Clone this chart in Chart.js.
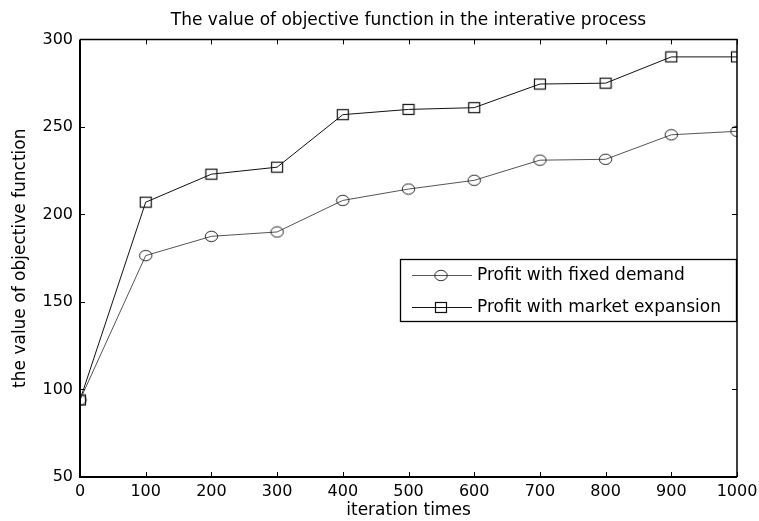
<!DOCTYPE html>
<html>
<head>
<meta charset="utf-8">
<script src="https://cdn.jsdelivr.net/npm/chart.js@4/dist/chart.umd.min.js"></script>
<style>
html,body{margin:0;padding:0;background:#fff;}
#wrap{width:759px;height:521px;}
</style>
</head>
<body>
<div id="wrap"><canvas id="c" width="759" height="521"></canvas></div>
<script>
const iterations = [0, 100, 200, 300, 400, 500, 600, 700, 800, 900, 1000];
const fixedDemand = [94, 176.5, 187.5, 190, 208, 214.5, 219.5, 231, 231.5, 245.5, 247.5];
const marketExpansion = [94, 207, 223, 227, 257, 260, 261, 274.5, 275, 290, 290];
const seriesNames = ['Profit with fixed demand', 'Profit with market expansion'];
const titleText = 'The value of objective function in the interative process';
const xTitle = 'iteration times';
const yTitle = 'the value of objective function';

const FONT = 'DejaVu Sans';

function makeEllipse(){
  const c = document.createElement('canvas');
  c.width = 15; c.height = 13;
  const g = c.getContext('2d');
  g.strokeStyle = '#222'; g.lineWidth = 1;
  g.beginPath(); g.ellipse(7.5, 6.5, 6.2, 5.2, 0, 0, Math.PI*2); g.stroke();
  return c;
}
function makeSquare(){
  const c = document.createElement('canvas');
  c.width = 14; c.height = 13;
  const g = c.getContext('2d');
  g.strokeStyle = '#111'; g.lineWidth = 1.2;
  g.strokeRect(1.5, 1.5, 11, 10);
  return c;
}
const ellipseImg = makeEllipse();
const squareImg = makeSquare();

const toPts = arr => iterations.map((x, i) => ({x: x, y: arr[i]}));

const frame = {
  id: 'frame',
  afterDatasetsDraw(chart){
    const {ctx, chartArea: a, scales} = chart;
    const xs = scales.x, ys = scales.y;
    ctx.save();
    ctx.strokeStyle = '#000';
    ctx.lineWidth = 1;
    const tl = 5;
    xs.ticks.forEach(t => {
      const px = Math.round(xs.getPixelForValue(t.value)) + 0.5;
      ctx.beginPath();
      ctx.moveTo(px, a.bottom); ctx.lineTo(px, a.bottom - tl);
      ctx.moveTo(px, a.top); ctx.lineTo(px, a.top + tl);
      ctx.stroke();
    });
    ys.ticks.forEach(t => {
      const py = Math.round(ys.getPixelForValue(t.value)) + 0.5;
      ctx.beginPath();
      ctx.moveTo(a.left, py); ctx.lineTo(a.left + tl, py);
      ctx.moveTo(a.right, py); ctx.lineTo(a.right - tl, py);
      ctx.stroke();
    });
    ctx.lineWidth = 1.5;
    ctx.beginPath();
    ctx.moveTo(a.left, a.top); ctx.lineTo(a.right, a.top); ctx.lineTo(a.right, a.bottom);
    ctx.stroke();
    ctx.lineWidth = 2;
    ctx.beginPath();
    ctx.moveTo(a.left, a.top); ctx.lineTo(a.left, a.bottom); ctx.lineTo(a.right, a.bottom);
    ctx.stroke();

    // legend
    const lx0 = 400, ly0 = 259, lx1 = a.right, ly1 = 322;
    ctx.fillStyle = '#fff';
    ctx.fillRect(lx0, ly0, lx1 - lx0, ly1 - ly0);
    ctx.lineWidth = 1.3;
    ctx.strokeStyle = '#000';
    ctx.strokeRect(lx0 + 0.5, ly0 + 0.5, lx1 - lx0 - 1, ly1 - ly0 - 1);
    const rows = [
      {y: 275, color: '#555', img: ellipseImg, text: seriesNames[0]},
      {y: 307, color: '#111', img: squareImg, text: seriesNames[1]}
    ];
    ctx.font = '17px "' + FONT + '"';
    ctx.textBaseline = 'middle';
    ctx.textAlign = 'left';
    rows.forEach(r => {
      ctx.strokeStyle = r.color; ctx.lineWidth = 1;
      ctx.beginPath(); ctx.moveTo(412, r.y + 0.5); ctx.lineTo(472, r.y + 0.5); ctx.stroke();
      ctx.drawImage(r.img, 441 - r.img.width/2, r.y - r.img.height/2 + 0.5);
      ctx.fillStyle = '#000';
      ctx.fillText(r.text, 477, r.y + 1);
    });
    ctx.restore();
  }
};

new Chart(document.getElementById('c'), {
  type: 'line',
  data: {
    datasets: [
      {
        label: seriesNames[0],
        data: toPts(fixedDemand),
        borderColor: '#555',
        borderWidth: 1,
        pointStyle: ellipseImg,
        pointRadius: 6,
        pointHoverRadius: 6,
        fill: false,
        tension: 0
      },
      {
        label: seriesNames[1],
        data: toPts(marketExpansion),
        borderColor: '#111',
        borderWidth: 1,
        pointStyle: squareImg,
        pointRadius: 6,
        pointHoverRadius: 6,
        fill: false,
        tension: 0
      }
    ]
  },
  options: {
    responsive: false,
    animation: false,
    events: [],
    layout: {padding: {left: 0, right: 22, top: 0, bottom: 0}},
    plugins: {
      legend: {display: false},
      tooltip: {enabled: false},
      title: {
        display: true,
        text: titleText,
        fullSize: false,
        color: '#000',
        font: {family: FONT, size: 17, weight: 'normal'},
        padding: {top: 10, bottom: 9}
      }
    },
    scales: {
      x: {
        type: 'linear',
        min: 0, max: 1000,
        ticks: {stepSize: 100, color: '#000', padding: 5, maxRotation: 0,
                font: {family: FONT, size: 16},
                callback: v => String(v)},
        grid: {display: false, drawTicks: false},
        border: {display: false},
        title: {display: true, text: xTitle, color: '#000',
                font: {family: FONT, size: 17}, padding: {top: 0, bottom: 0}},
        afterFit(s){ s.height = 44; s.paddingLeft = 0; s.paddingRight = 0; }
      },
      y: {
        min: 50, max: 300,
        ticks: {stepSize: 50, color: '#000', padding: 7,
                font: {family: FONT, size: 16},
                callback: v => String(v)},
        grid: {display: false, drawTicks: false},
        border: {display: false},
        title: {display: true, text: yTitle, color: '#000',
                font: {family: FONT, size: 17}, padding: {top: 10, bottom: 12}},
        afterFit(s){ s.width = 80; s.paddingTop = 0; s.paddingBottom = 0; }
      }
    }
  },
  plugins: [frame]
});
</script>
</body>
</html>
